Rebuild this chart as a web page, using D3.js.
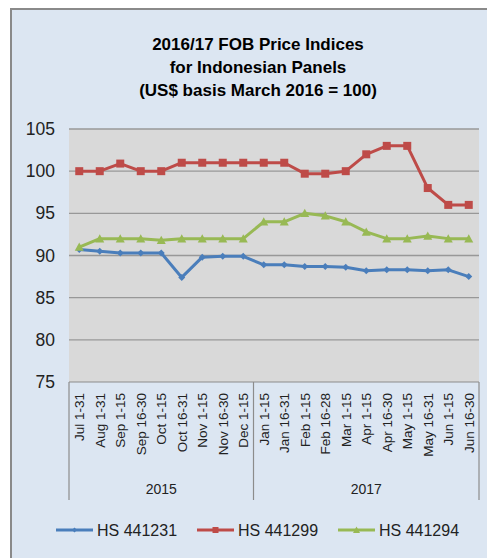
<!DOCTYPE html>
<html>
<head>
<meta charset="utf-8">
<script src="https://cdn.jsdelivr.net/npm/d3@7"></script>
<style>
  body { margin: 0; background: #fff; }
  svg { display: block; font-family: "Liberation Sans", Arial, sans-serif; }
</style>
</head>
<body>
<div id="chart"></div>
<script>
var width = 487;
var height = 558;

// categories and year groups
var periods = ['Jul 1-31', 'Aug 1-31', 'Sep 1-15', 'Sep 16-30', 'Oct 1-15', 'Oct 16-31',
  'Nov 1-15', 'Nov 16-30', 'Dec 1-15', 'Jan 1-15', 'Jan 16-31', 'Feb 1-15', 'Feb 16-28',
  'Mar 1-15', 'Apr 1-15', 'Apr 16-30', 'May 1-15', 'May 16-31', 'Jun 1-15', 'Jun 16-30'];
var years = [{ label: '2015', from: 0, to: 9 }, { label: '2017', from: 9, to: 20 }];
var yTicks = [75, 80, 85, 90, 95, 100, 105];

// series values
var hs441231 = [90.7, 90.5, 90.3, 90.3, 90.3, 87.4, 89.8, 89.9, 89.9, 88.9,
  88.9, 88.7, 88.7, 88.6, 88.2, 88.3, 88.3, 88.2, 88.3, 87.5];
var hs441299 = [100, 100, 100.9, 100, 100, 101, 101, 101, 101, 101,
  101, 99.7, 99.7, 100, 102, 103, 103, 98, 96, 96];
var hs441294 = [91, 92, 92, 92, 91.8, 92, 92, 92, 92, 94,
  94, 95, 94.7, 94, 92.8, 92, 92, 92.3, 92, 92];

var seriesNames = ['HS 441231', 'HS 441299', 'HS 441294'];

var series = [
  { name: seriesNames[0], values: hs441231, color: '#4a7ebb', marker: 'diamond' },
  { name: seriesNames[1], values: hs441299, color: '#be4b48', marker: 'square' },
  { name: seriesNames[2], values: hs441294, color: '#98b954', marker: 'triangle' }
];

var plot = { left: 69, right: 479, top: 129, bottom: 382 };

var svg = d3.select('#chart')
  .append('svg')
  .attr('width', width)
  .attr('height', height);

// chart background + frame
svg.append('rect')
  .attr('x', 11).attr('y', 9)
  .attr('width', width).attr('height', height)
  .attr('fill', '#dce6f2')
  .attr('stroke', '#8a8a8a')
  .attr('stroke-width', 2);

// title
var title = svg.append('text')
  .attr('text-anchor', 'middle')
  .attr('font-weight', 'bold')
  .attr('font-size', 17)
  .attr('fill', '#000');
['2016/17 FOB Price Indices', 'for Indonesian Panels', '(US$ basis March 2016 = 100)']
  .forEach(function(line, i) {
    title.append('tspan').attr('x', 258).attr('y', 50 + i * 23).text(line);
  });

var x = d3.scaleBand()
  .domain(periods)
  .range([plot.left, plot.right])
  .padding(0);

var y = d3.scaleLinear()
  .domain([75, 105])
  .range([plot.bottom, plot.top]);

var cx = function(i) { return x(periods[i]) + x.bandwidth() / 2; };

// plot area
svg.append('rect')
  .attr('x', plot.left).attr('y', plot.top)
  .attr('width', plot.right - plot.left)
  .attr('height', plot.bottom - plot.top)
  .attr('fill', '#d9d9d9');

// gridlines
svg.append('g')
  .selectAll('line')
  .data(yTicks.slice(1))
  .enter()
  .append('line')
  .attr('x1', plot.left).attr('x2', plot.right)
  .attr('y1', function(d) { return y(d); })
  .attr('y2', function(d) { return y(d); })
  .attr('stroke', '#989898')
  .attr('stroke-width', 1.3);

// y axis labels
svg.append('g')
  .selectAll('text')
  .data(yTicks)
  .enter()
  .append('text')
  .attr('x', 55)
  .attr('y', function(d) { return y(d) + 6; })
  .attr('text-anchor', 'end')
  .attr('font-size', 17.5)
  .attr('fill', '#222')
  .text(function(d) { return d; });

// category axis box
var axisG = svg.append('g')
  .attr('stroke', '#8c8c8c')
  .attr('stroke-width', 1.2);
axisG.append('line')
  .attr('x1', plot.left).attr('x2', plot.right)
  .attr('y1', plot.bottom).attr('y2', plot.bottom);
[0, 9, 20].forEach(function(i) {
  var xx = i < periods.length ? x(periods[i]) : plot.right;
  axisG.append('line')
    .attr('x1', xx).attr('x2', xx)
    .attr('y1', plot.bottom).attr('y2', 500);
});

// rotated period labels
svg.append('g')
  .selectAll('text')
  .data(periods)
  .enter()
  .append('text')
  .attr('transform', function(d, i) {
    return 'translate(' + (cx(i) + 5) + ',' + 393 + ') rotate(-90)';
  })
  .attr('text-anchor', 'end')
  .attr('font-size', 13.5)
  .attr('fill', '#222')
  .text(function(d) { return d; });

// year labels
svg.append('g')
  .selectAll('text')
  .data(years)
  .enter()
  .append('text')
  .attr('x', function(d) {
    var a = x(periods[d.from]);
    var b = d.to < periods.length ? x(periods[d.to]) : plot.right;
    return (a + b) / 2;
  })
  .attr('y', 494)
  .attr('text-anchor', 'middle')
  .attr('font-size', 14)
  .attr('fill', '#222')
  .text(function(d) { return d.label; });

var drawMarker = function(sel, type, color, s) {
  if (type === 'square') {
    sel.append('rect')
      .attr('x', -s / 2).attr('y', -s / 2)
      .attr('width', s).attr('height', s)
      .attr('fill', color);
  } else if (type === 'diamond') {
    sel.append('path')
      .attr('d', 'M0,' + (-s / 2) + 'L' + (s / 2) + ',0L0,' + (s / 2) + 'L' + (-s / 2) + ',0Z')
      .attr('fill', color);
  } else {
    sel.append('path')
      .attr('d', 'M0,' + (-s / 2) + 'L' + (s / 2) + ',' + (s / 2.4) + 'L' + (-s / 2) + ',' + (s / 2.4) + 'Z')
      .attr('fill', color);
  }
};

var line = d3.line()
  .x(function(d, i) { return cx(i); })
  .y(function(d) { return y(d); });

var markerSize = { diamond: 7, square: 8, triangle: 9 };

series.forEach(function(s) {
  var g = svg.append('g');
  g.append('path')
    .datum(s.values)
    .attr('d', line)
    .attr('fill', 'none')
    .attr('stroke', s.color)
    .attr('stroke-width', 3)
    .attr('stroke-linejoin', 'round');
  g.selectAll('g.pt')
    .data(s.values)
    .enter()
    .append('g')
    .attr('class', 'pt')
    .attr('transform', function(d, i) { return 'translate(' + cx(i) + ',' + y(d) + ')'; })
    .each(function() { drawMarker(d3.select(this), s.marker, s.color, markerSize[s.marker]); });
});

// legend
var legendX = [56, 197, 338];
series.forEach(function(s, i) {
  var lg = svg.append('g').attr('transform', 'translate(' + legendX[i] + ',530)');
  lg.append('line')
    .attr('x1', 0).attr('x2', 37)
    .attr('stroke', s.color)
    .attr('stroke-width', 3);
  var m = lg.append('g').attr('transform', 'translate(18.5,0)');
  drawMarker(m, s.marker, s.color, markerSize[s.marker] - 2);
  lg.append('text')
    .attr('x', 41).attr('y', 6)
    .attr('font-size', 16)
    .attr('fill', '#222')
    .text(s.name);
});
</script>
</body>
</html>
